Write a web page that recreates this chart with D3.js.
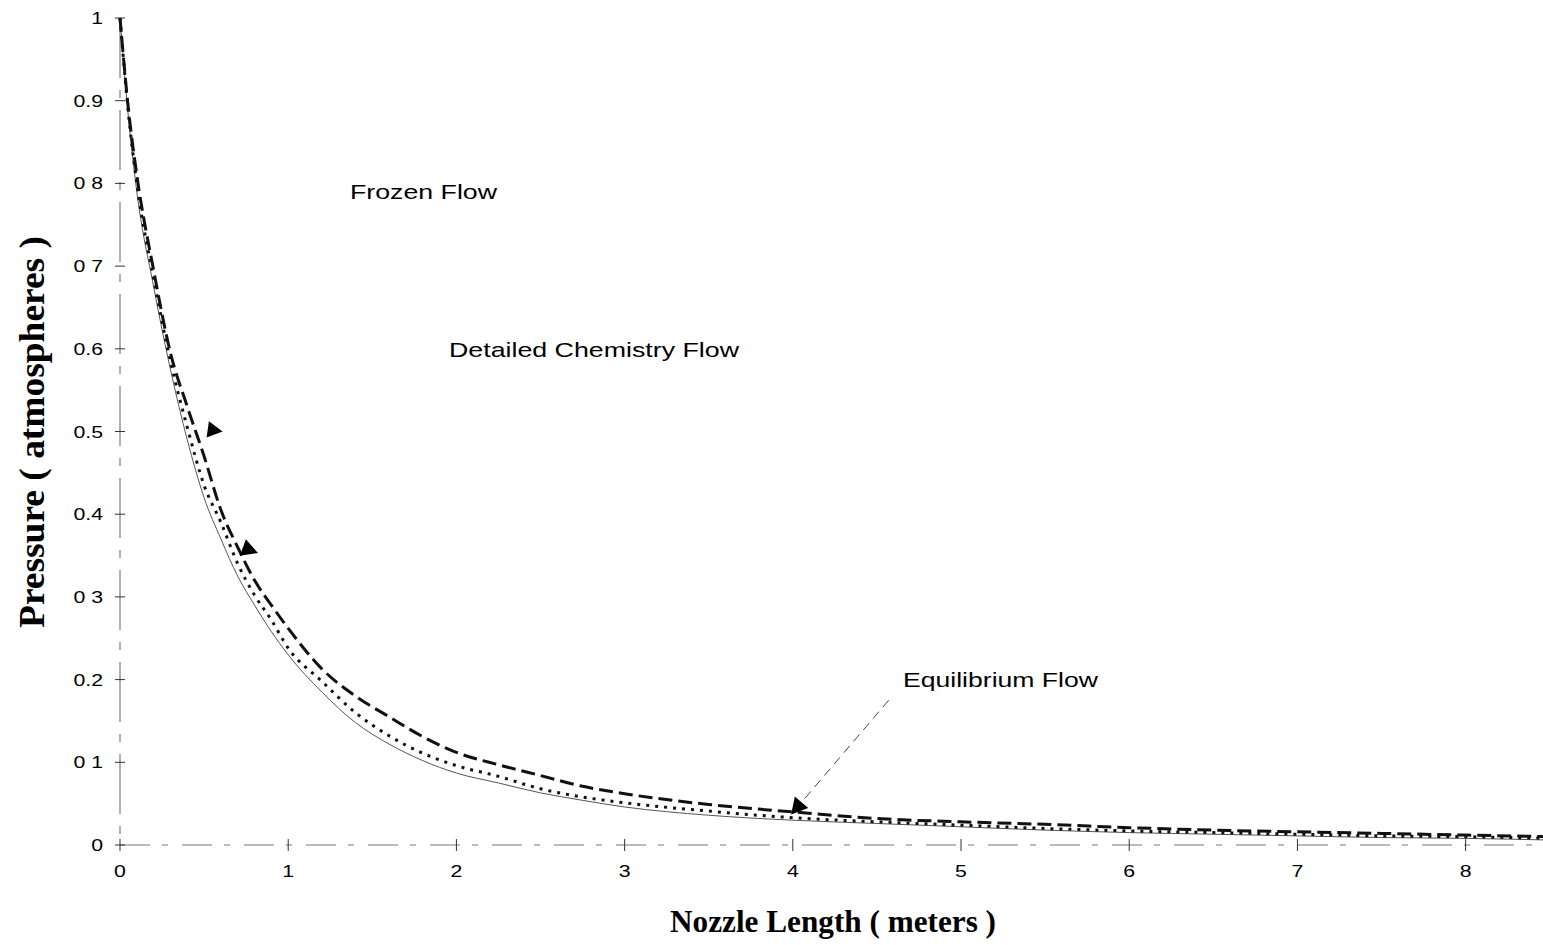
<!DOCTYPE html>
<html>
<head>
<meta charset="utf-8">
<script src="https://cdn.jsdelivr.net/npm/d3@7"></script>
<style>
  html, body { margin: 0; padding: 0; background: #fff; }
  svg { display: block; }
</style>
</head>
<body>
<script>
// nozzle length (m)
var xs = [0, 0.05, 0.1, 0.2, 0.3, 0.4, 0.5, 0.6, 0.7, 0.8, 0.9, 1.0, 1.2, 1.4, 1.6, 1.8, 2.0, 2.25, 2.5, 2.75, 3.0, 3.5, 4.0, 4.5, 5.0, 5.5, 6.0, 6.5, 7.0, 7.5, 8.0, 8.5];

// pressure (atm) for each flow model
var frozen = [1.0, 0.89, 0.81, 0.695, 0.595, 0.53, 0.47, 0.405, 0.36, 0.32, 0.29, 0.262, 0.213, 0.18, 0.155, 0.131, 0.112, 0.097, 0.084, 0.071, 0.062, 0.049, 0.040, 0.032, 0.028, 0.025, 0.021, 0.018, 0.016, 0.014, 0.012, 0.010];
var detailed = [1.0, 0.885, 0.80, 0.685, 0.585, 0.505, 0.435, 0.39, 0.34, 0.302, 0.272, 0.238, 0.198, 0.16, 0.132, 0.111, 0.096, 0.083, 0.068, 0.058, 0.051, 0.041, 0.033, 0.028, 0.024, 0.020, 0.017, 0.015, 0.013, 0.011, 0.010, 0.008];
var equilibrium = [1.0, 0.88, 0.79, 0.675, 0.575, 0.49, 0.42, 0.37, 0.325, 0.29, 0.258, 0.23, 0.185, 0.148, 0.122, 0.102, 0.087, 0.075, 0.063, 0.054, 0.046, 0.036, 0.030, 0.026, 0.022, 0.018, 0.015, 0.013, 0.011, 0.009, 0.008, 0.006];

var xTicks = [0, 1, 2, 3, 4, 5, 6, 7, 8];
var xTickLabels = ["0", "1", "2", "3", "4", "5", "6", "7", "8"];
var yTicks = [0, 0.1, 0.2, 0.3, 0.4, 0.5, 0.6, 0.7, 0.8, 0.9, 1];
var yTickLabels = ["0", "0 1", "0.2", "0 3", "0.4", "0.5", "0.6", "0 7", "0 8", "0.9", "1"];

var width = 1543,
    height = 945;

var svg = d3.select("body")
    .append("svg")
    .attr("width", width)
    .attr("height", height);

var x = d3.scaleLinear().domain([0, 8.46]).range([120, 1543]);
var y = d3.scaleLinear().domain([0, 1]).range([845, 18]);

var sans = "'Liberation Sans', Arial, sans-serif";
var serif = "'Liberation Serif', 'Times New Roman', serif";

// axes (faded, broken like the scan)
svg.append("line")
    .attr("x1", x(0)).attr("x2", x(0))
    .attr("y1", y(1)).attr("y2", y(0))
    .attr("stroke", "#777")
    .attr("stroke-width", 1.2)
    .attr("stroke-dasharray", "60 12 8 12");
svg.append("line")
    .attr("x1", x(0)).attr("x2", width)
    .attr("y1", y(0)).attr("y2", y(0))
    .attr("stroke", "#777")
    .attr("stroke-width", 1.2)
    .attr("stroke-dasharray", "30 12 6 14");

// tick marks
svg.selectAll(".ytick")
    .data(yTicks)
    .enter().append("line")
    .attr("class", "ytick")
    .attr("x1", x(0) - 5).attr("x2", x(0) + 5)
    .attr("y1", function (d) { return y(d); })
    .attr("y2", function (d) { return y(d); })
    .attr("stroke", "#333");
svg.selectAll(".xtick")
    .data(xTicks)
    .enter().append("line")
    .attr("class", "xtick")
    .attr("x1", function (d) { return x(d); })
    .attr("x2", function (d) { return x(d); })
    .attr("y1", y(0) - 6).attr("y2", y(0) + 6)
    .attr("stroke", "#333");

// tick labels
svg.selectAll(".ylab")
    .data(yTicks)
    .enter().append("text")
    .attr("class", "ylab")
    .attr("transform", function (d) { return "translate(103," + (y(d) + 6) + ") scale(1.25,1)"; })
    .attr("text-anchor", "end")
    .style("font-family", sans)
    .style("font-size", "17px")
    .text(function (d, i) { return yTickLabels[i]; });

svg.selectAll(".xlab")
    .data(xTicks)
    .enter().append("text")
    .attr("class", "xlab")
    .attr("transform", function (d) { return "translate(" + x(d) + ",877) scale(1.25,1)"; })
    .attr("text-anchor", "middle")
    .style("font-family", sans)
    .style("font-size", "17px")
    .text(function (d, i) { return xTickLabels[i]; });

// axis titles
svg.append("text")
    .attr("transform", "translate(44,432) rotate(-90)")
    .attr("text-anchor", "middle")
    .attr("textLength", 392)
    .attr("lengthAdjust", "spacingAndGlyphs")
    .style("font-family", serif)
    .style("font-weight", "bold")
    .style("font-size", "35px")
    .text("Pressure ( atmospheres )");

svg.append("text")
    .attr("x", 833)
    .attr("y", 932)
    .attr("text-anchor", "middle")
    .attr("textLength", 326)
    .attr("lengthAdjust", "spacingAndGlyphs")
    .style("font-family", serif)
    .style("font-weight", "bold")
    .style("font-size", "31px")
    .text("Nozzle Length ( meters )");

// curves
var line = d3.line()
    .x(function (d) { return x(d[0]); })
    .y(function (d) { return y(d[1]); })
    .curve(d3.curveMonotoneX);

function pairs(vals) {
    return xs.map(function (v, i) { return [v, vals[i]]; });
}

svg.append("path")
    .datum(pairs(equilibrium))
    .attr("d", line)
    .attr("fill", "none")
    .attr("stroke", "#555")
    .attr("stroke-width", 1);

svg.append("path")
    .datum(pairs(detailed))
    .attr("d", line)
    .attr("fill", "none")
    .attr("stroke", "#111")
    .attr("stroke-width", 3)
    .attr("stroke-dasharray", "3 6");

svg.append("path")
    .datum(pairs(frozen))
    .attr("d", line)
    .attr("fill", "none")
    .attr("stroke", "#111")
    .attr("stroke-width", 3)
    .attr("stroke-dasharray", "14 6");

// annotations
svg.append("text")
    .attr("x", 350).attr("y", 199)
    .attr("textLength", 147)
    .attr("lengthAdjust", "spacingAndGlyphs")
    .style("font-family", sans)
    .style("font-size", "21px")
    .text("Frozen Flow");

svg.append("text")
    .attr("x", 449).attr("y", 357)
    .attr("textLength", 290)
    .attr("lengthAdjust", "spacingAndGlyphs")
    .style("font-family", sans)
    .style("font-size", "21px")
    .text("Detailed Chemistry Flow");

svg.append("text")
    .attr("x", 903).attr("y", 687)
    .attr("textLength", 195)
    .attr("lengthAdjust", "spacingAndGlyphs")
    .style("font-family", sans)
    .style("font-size", "21px")
    .text("Equilibrium Flow");

// arrowheads: tip in data coords, angle in degrees
function arrowHead(tx, ty, angle, size) {
    svg.append("path")
        .attr("d", "M0,0 L" + (-size) + "," + (-size * 0.55) + " L" + (-size) + "," + (size * 0.55) + " Z")
        .attr("transform", "translate(" + x(tx) + "," + y(ty) + ") rotate(" + angle + ")")
        .attr("fill", "#000");
}

arrowHead(0.61, 0.50, 8, 15);
arrowHead(0.82, 0.353, 20, 16);

// leader for equilibrium flow
var leadFrom = [4.57, 0.175], leadTo = [3.99, 0.037];
svg.append("line")
    .attr("x1", x(leadFrom[0])).attr("y1", y(leadFrom[1]))
    .attr("x2", x(leadTo[0])).attr("y2", y(leadTo[1]))
    .attr("stroke", "#444")
    .attr("stroke-width", 1)
    .attr("stroke-dasharray", "9 6");
var ang = Math.atan2(y(leadTo[1]) - y(leadFrom[1]), x(leadTo[0]) - x(leadFrom[0])) * 180 / Math.PI;
arrowHead(leadTo[0], leadTo[1], ang, 16);
</script>
</body>
</html>
